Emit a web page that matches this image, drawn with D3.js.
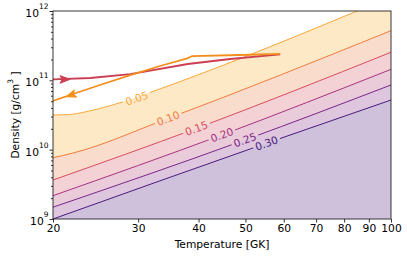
<!DOCTYPE html>
<html>
<head>
<meta charset="utf-8">
<script src="https://cdn.jsdelivr.net/npm/d3@7"></script>
<style>
  body { margin: 0; background: #fff; }
  svg { display: block; font-family: 'DejaVu Sans', sans-serif; }
</style>
</head>
<body>
<div id="chart"></div>
<script>
// contour levels, each traced as [T (GK), density (g/cm^3)] points
var levelLabels = ['0.05', '0.10', '0.15', '0.20', '0.25', '0.30']
var contour005 = [[20, 3.16e10], [21.5, 3.2e10], [23.3, 3.5e10], [26.2, 4.3e10], [28.2, 5.0e10], [31.4, 6.5e10], [100, 1.6e12]]
var contour010 = [[20, 7.65e9], [21.9, 8.86e9], [34.6, 2.83e10], [100, 5.2e11]]
var contour015 = [[20, 3.65e9], [39.6, 2.03e10], [100, 2.54e11]]
var contour020 = [[20, 2.17e9], [44.7, 1.63e10], [100, 1.44e11]]
var contour025 = [[20, 1.48e9], [49.9, 1.38e10], [100, 8.57e10]]
var contour030 = [[20, 1.0e9], [55.3, 1.24e10], [100, 5.2e10]]
var contours = [contour005, contour010, contour015, contour020, contour025, contour030]
var labelPos = [[29.8, 5.5e10], [34.6, 2.83e10], [39.6, 2.03e10], [44.7, 1.63e10], [49.9, 1.38e10], [55.3, 1.24e10]]

// trajectories
var redT = [20, 23.9, 28.9, 38.0, 46.5, 59.0]
var redRho = [1.035e11, 1.08e11, 1.23e11, 1.72e11, 2.03e11, 2.36e11]
var orangeT = [20, 21.7, 25.0, 28.9, 33.3, 37.9, 38.8, 48.7, 59.0]
var orangeRho = [5.04e10, 6.14e10, 8.57e10, 1.19e11, 1.61e11, 2.08e11, 2.24e11, 2.32e11, 2.40e11]
// arrow heads: [tip, tail] in data coords
var redArrow = [[21.7, 1.035e11], [20.68, 1.03e11]]
var orangeArrow = [[21.28, 5.8e10], [22.53, 6.65e10]]

var xTicks = [20, 30, 40, 50, 60, 70, 80, 90, 100]
var yMajor = [1e9, 1e10, 1e11, 1e12]
var yExp = ['9', '10', '11', '12']

var lineColors = ['#f9a63a', '#f07b3c', '#d84b5e', '#a8327f', '#7a2688', '#4a1a7c']
var fillColors = ['#fde9c6', '#f9dccc', '#f3d1d4', '#eacbda', '#ddc6de', '#cfc1dc']
var redColor = '#cc3f52'
var orangeColor = '#f28e1c'

var width = 407
var height = 256
var margin = {left: 53, right: 16, top: 11, bottom: 37}
var plotW = width - margin.left - margin.right
var plotH = height - margin.top - margin.bottom
var bottom = margin.top + plotH

var x = d3.scaleLog().domain([20, 100]).range([margin.left, margin.left + plotW])
var y = d3.scaleLog().domain([1e9, 1e12]).range([bottom, margin.top])

var svg = d3.select('#chart').append('svg')
  .attr('width', width)
  .attr('height', height)

var defs = svg.append('defs')
defs.append('clipPath').attr('id', 'plotClip')
  .append('rect')
  .attr('x', margin.left).attr('y', margin.top)
  .attr('width', plotW).attr('height', plotH)

var plot = svg.append('g').attr('clip-path', 'url(#plotClip)')

var area = d3.area()
  .x(function (d) { return x(d[0]) })
  .y0(bottom + 5)
  .y1(function (d) { return y(d[1]) })
  .curve(d3.curveMonotoneX)
var line = d3.line()
  .x(function (d) { return x(d[0]) })
  .y(function (d) { return y(d[1]) })
  .curve(d3.curveMonotoneX)

contours.forEach(function (c, i) {
  plot.append('path')
    .attr('d', area(c))
    .attr('fill', fillColors[i])
})

// pixel slope along a contour near a given x, for label rotation
function angleAt (c, px) {
  var pts = c.map(function (d) { return [x(d[0]), y(d[1])] })
  function yAt (xx) {
    for (var k = 0; k < pts.length - 1; k++) {
      if (xx >= pts[k][0] && xx <= pts[k + 1][0]) {
        var t = (xx - pts[k][0]) / (pts[k + 1][0] - pts[k][0])
        return pts[k][1] + t * (pts[k + 1][1] - pts[k][1])
      }
    }
    return pts[pts.length - 1][1]
  }
  return Math.atan2(yAt(px + 10) - yAt(px - 10), 20) * 180 / Math.PI
}

var mask = defs.append('mask').attr('id', 'gaps')
  .attr('maskUnits', 'userSpaceOnUse')
  .attr('x', 0).attr('y', 0).attr('width', width).attr('height', height)
mask.append('rect').attr('width', width).attr('height', height).attr('fill', '#fff')

var lines = plot.append('g').attr('mask', 'url(#gaps)')
contours.forEach(function (c, i) {
  lines.append('path')
    .attr('d', line(c))
    .attr('fill', 'none')
    .attr('stroke', lineColors[i])
    .attr('stroke-width', 1)
})

var labels = svg.append('g')
labelPos.forEach(function (p, i) {
  var px = x(p[0])
  var py = y(p[1])
  var ang = angleAt(contours[i], px)
  var t = labels.append('text')
    .attr('transform', 'translate(' + px + ',' + py + ') rotate(' + ang + ')')
    .attr('text-anchor', 'middle')
    .attr('dy', '0.36em')
    .attr('font-size', '10.5px')
    .attr('fill', lineColors[i])
    .text(levelLabels[i])
  var w = t.node().getComputedTextLength() + 5
  mask.append('rect')
    .attr('x', -w / 2).attr('y', -5)
    .attr('width', w).attr('height', 10)
    .attr('transform', 'translate(' + px + ',' + py + ') rotate(' + ang + ')')
    .attr('fill', '#000')
})

var traj = d3.line()
  .x(function (d) { return x(d[0]) })
  .y(function (d) { return y(d[1]) })

function drawArrow (a, color) {
  var tx = x(a[0][0])
  var ty = y(a[0][1])
  var bx = x(a[1][0])
  var by = y(a[1][1])
  var len = Math.hypot(tx - bx, ty - by)
  var ux = (tx - bx) / len
  var uy = (ty - by) / len
  var L = 10
  var W = 3.8
  var pts = [
    [tx, ty],
    [tx - L * ux - W * uy, ty - L * uy + W * ux],
    [tx - 0.8 * L * ux, ty - 0.8 * L * uy],
    [tx - L * ux + W * uy, ty - L * uy - W * ux]
  ]
  plot.append('path')
    .attr('d', 'M' + pts.join('L') + 'Z')
    .attr('fill', color)
    .attr('stroke', color)
    .attr('stroke-width', 1)
    .attr('stroke-linejoin', 'miter')
}

plot.append('path')
  .attr('d', traj(redT.map(function (t, i) { return [t, redRho[i]] })))
  .attr('fill', 'none')
  .attr('stroke', redColor)
  .attr('stroke-width', 1.8)
drawArrow(redArrow, redColor)

plot.append('path')
  .attr('d', traj(orangeT.map(function (t, i) { return [t, orangeRho[i]] })))
  .attr('fill', 'none')
  .attr('stroke', orangeColor)
  .attr('stroke-width', 1.8)
drawArrow(orangeArrow, orangeColor)

// axes
var xAxis = svg.append('g')
  .attr('transform', 'translate(0,' + bottom + ')')
  .call(d3.axisBottom(x).tickValues(xTicks).tickFormat(d3.format('d')).tickSize(3.5).tickSizeOuter(0))
xAxis.select('.domain').remove()
xAxis.selectAll('text')
  .attr('y', 13).attr('dy', 0)
  .attr('font-size', '10.7px')
  .attr('font-family', 'DejaVu Sans')
  .attr('fill', '#000')

var yMinor = []
yMajor.slice(0, 3).forEach(function (d) {
  for (var m = 2; m < 10; m++) yMinor.push(d * m)
})
var yMinorAxis = svg.append('g')
  .attr('transform', 'translate(' + margin.left + ',0)')
  .call(d3.axisLeft(y).tickValues(yMinor).tickFormat('').tickSize(2).tickSizeOuter(0))
yMinorAxis.select('.domain').remove()

var yAxis = svg.append('g')
  .attr('transform', 'translate(' + margin.left + ',0)')
  .call(d3.axisLeft(y).tickValues(yMajor).tickSize(3.5).tickSizeOuter(0))
yAxis.select('.domain').remove()
yAxis.selectAll('text')
  .text('')
  .attr('x', -4.5).attr('dy', 0).attr('y', 5.5)
  .attr('font-size', '10.7px')
  .attr('font-family', 'DejaVu Sans')
  .attr('fill', '#000')
  .each(function (d, i) {
    var el = d3.select(this)
    el.append('tspan').text('10')
    el.append('tspan').attr('dy', -8).attr('font-size', '7.5px').text(yExp[i])
  })

svg.selectAll('.tick line').attr('stroke', '#000').attr('stroke-width', 0.8)

svg.append('rect')
  .attr('x', margin.left).attr('y', margin.top)
  .attr('width', plotW).attr('height', plotH)
  .attr('fill', 'none')
  .attr('stroke', '#222')
  .attr('stroke-width', 0.9)

svg.append('text')
  .attr('x', margin.left + plotW / 2)
  .attr('y', 248)
  .attr('text-anchor', 'middle')
  .attr('font-size', '10.7px')
  .text('Temperature [GK]')

var yLabel = svg.append('text')
  .attr('transform', 'translate(18.5,' + (margin.top + plotH / 2) + ') rotate(-90)')
  .attr('text-anchor', 'middle')
  .attr('font-size', '10.7px')
yLabel.append('tspan').text('Density [g/cm')
yLabel.append('tspan').attr('dy', -6).attr('font-size', '7.5px').text('3')
yLabel.append('tspan').attr('dy', 6).text(' ]')
</script>
</body>
</html>
